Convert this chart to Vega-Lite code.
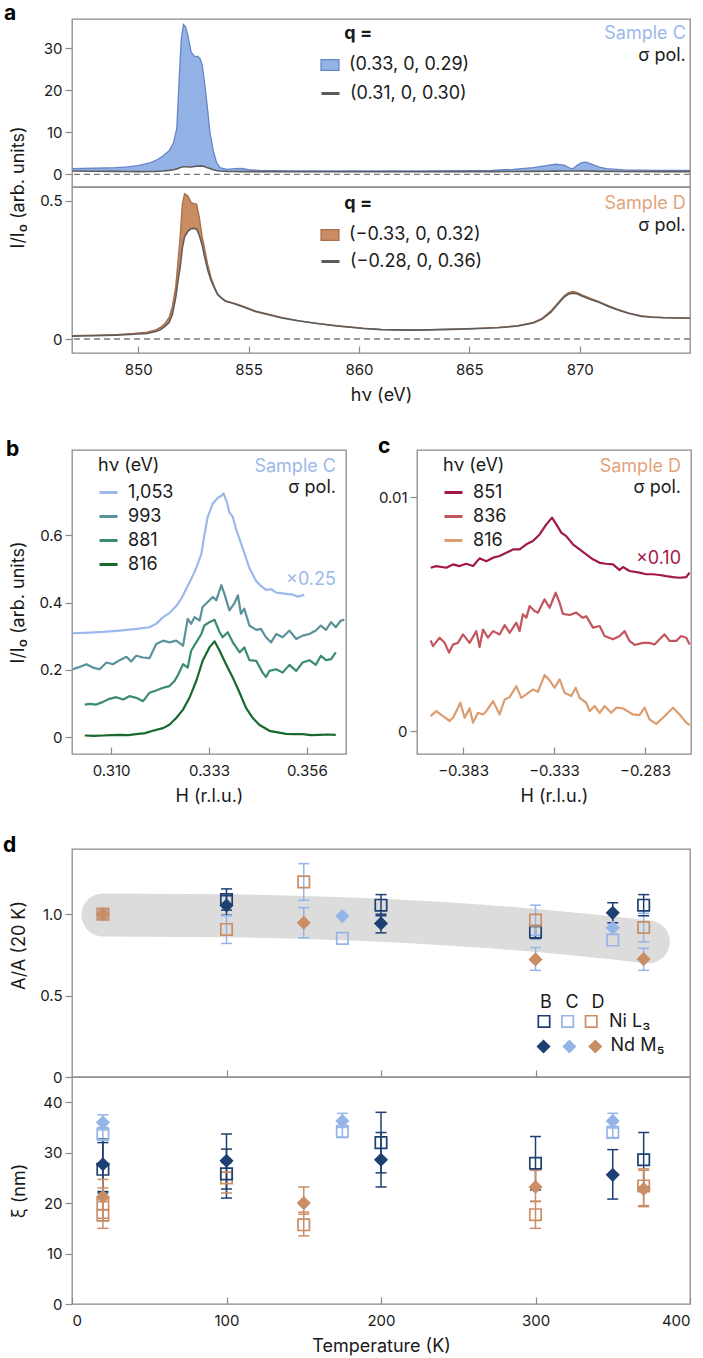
{
"$schema": "https://vega.github.io/schema/vega-lite/v6.json",
"background": "white",
"padding": {"left": 2, "top": 2, "right": 0, "bottom": 0},
"config": {
 "font": "Inter",
 "view": {"stroke": "#8c8c8c", "strokeWidth": 1.3},
 "axis": {"domain": false, "grid": false, "tickColor": "#8c8c8c", "tickWidth": 1.2, "labelFont": "Inter", "labelFontSize": 15, "labelColor": "#1a1a1a", "titleFont": "Inter", "titleFontSize": 18, "titleFontWeight": "normal", "titleColor": "#1a1a1a"},
 "axisX": {"tickSize": -7, "labelPadding": 16, "titlePadding": 9},
 "axisY": {"tickSize": 7, "labelPadding": 3, "minExtent": 40, "maxExtent": 40, "titlePadding": 5},
 "legend": {"labelFont": "Inter", "labelFontSize": 18, "labelColor": "#1a1a1a", "titleFont": "Inter", "titleFontSize": 18, "titleFontWeight": "normal", "titleColor": "#1a1a1a", "padding": 0},
 "title": {"font": "Inter", "fontSize": 21, "fontWeight": "bold", "color": "#000000", "anchor": "start", "frame": "group", "offset": 0, "baseline": "alphabetic"},
 "text": {"font": "Inter", "fontSize": 18, "color": "#1a1a1a"}
},
"datasets": {
 "aC": [
  {"eV":847.0,"sig":1.35,"bg":0.80},{"eV":848.0,"sig":1.45,"bg":0.75},{"eV":849.0,"sig":1.6,"bg":0.70},{"eV":849.5,"sig":1.8,"bg":0.68},{"eV":850.0,"sig":2.1,"bg":0.66},{"eV":850.5,"sig":2.7,"bg":0.68},{"eV":850.8,"sig":3.3,"bg":0.72},{"eV":851.1,"sig":4.3,"bg":0.80},{"eV":851.4,"sig":5.6,"bg":0.95},{"eV":851.6,"sig":7.5,"bg":1.1},{"eV":851.75,"sig":11,"bg":1.3},{"eV":851.85,"sig":22,"bg":1.5},{"eV":851.95,"sig":32,"bg":1.7},{"eV":852.05,"sig":35.6,"bg":1.8},{"eV":852.15,"sig":35,"bg":1.8},{"eV":852.25,"sig":33,"bg":1.75},{"eV":852.4,"sig":29,"bg":1.75},{"eV":852.55,"sig":28,"bg":1.85},{"eV":852.7,"sig":28,"bg":1.95},{"eV":852.8,"sig":27.5,"bg":2.0},{"eV":852.9,"sig":26,"bg":1.95},{"eV":853.0,"sig":22,"bg":1.85},{"eV":853.1,"sig":17.5,"bg":1.65},{"eV":853.25,"sig":10,"bg":1.4},{"eV":853.4,"sig":5.6,"bg":1.1},{"eV":853.55,"sig":2.8,"bg":0.9},{"eV":853.7,"sig":1.6,"bg":0.8},{"eV":854.0,"sig":1.2,"bg":0.7},{"eV":854.4,"sig":1.35,"bg":0.68},{"eV":854.7,"sig":1.4,"bg":0.66},{"eV":855.0,"sig":1.1,"bg":0.65},{"eV":855.5,"sig":0.95,"bg":0.64},{"eV":857,"sig":0.85,"bg":0.63},{"eV":860,"sig":0.8,"bg":0.62},{"eV":863,"sig":0.82,"bg":0.63},{"eV":866,"sig":0.95,"bg":0.65},{"eV":867,"sig":1.2,"bg":0.68},{"eV":867.9,"sig":1.6,"bg":0.72},{"eV":868.5,"sig":2.1,"bg":0.75},{"eV":868.9,"sig":2.4,"bg":0.78},{"eV":869.3,"sig":2.2,"bg":0.8},{"eV":869.55,"sig":1.5,"bg":0.8},{"eV":869.7,"sig":1.35,"bg":0.8},{"eV":869.9,"sig":2.2,"bg":0.8},{"eV":870.1,"sig":2.8,"bg":0.82},{"eV":870.3,"sig":2.9,"bg":0.8},{"eV":870.6,"sig":2.3,"bg":0.76},{"eV":870.9,"sig":1.7,"bg":0.72},{"eV":871.2,"sig":1.35,"bg":0.7},{"eV":872.0,"sig":1.05,"bg":0.67},{"eV":873.5,"sig":0.95,"bg":0.66},{"eV":875.0,"sig":0.95,"bg":0.65}
 ],
 "aD": [
  {"eV":847.0,"sig":0.012,"bg":0.010},{"eV":848.0,"sig":0.014,"bg":0.012},{"eV":849.0,"sig":0.016,"bg":0.014},{"eV":849.8,"sig":0.020,"bg":0.017},{"eV":850.4,"sig":0.025,"bg":0.020},{"eV":850.8,"sig":0.033,"bg":0.027},{"eV":851.0,"sig":0.042,"bg":0.033},{"eV":851.2,"sig":0.055,"bg":0.045},{"eV":851.4,"sig":0.078,"bg":0.06},{"eV":851.55,"sig":0.12,"bg":0.09},{"eV":851.7,"sig":0.19,"bg":0.15},{"eV":851.8,"sig":0.28,"bg":0.21},{"eV":851.9,"sig":0.37,"bg":0.26},{"eV":852.0,"sig":0.49,"bg":0.33},{"eV":852.1,"sig":0.527,"bg":0.37},{"eV":852.25,"sig":0.518,"bg":0.39},{"eV":852.4,"sig":0.494,"bg":0.40},{"eV":852.55,"sig":0.49,"bg":0.40},{"eV":852.65,"sig":0.488,"bg":0.398},{"eV":852.77,"sig":0.44,"bg":0.375},{"eV":852.9,"sig":0.37,"bg":0.34},{"eV":853.0,"sig":0.331,"bg":0.30},{"eV":853.15,"sig":0.27,"bg":0.25},{"eV":853.3,"sig":0.223,"bg":0.212},{"eV":853.45,"sig":0.19,"bg":0.185},{"eV":853.6,"sig":0.163,"bg":0.16},{"eV":853.8,"sig":0.148,"bg":0.146},{"eV":853.95,"sig":0.139,"bg":0.137},{"eV":854.2,"sig":0.133,"bg":0.131},{"eV":854.45,"sig":0.127,"bg":0.125},{"eV":854.8,"sig":0.117,"bg":0.115},{"eV":855.3,"sig":0.102,"bg":0.100},{"eV":856.0,"sig":0.088,"bg":0.086},{"eV":856.5,"sig":0.078,"bg":0.076},{"eV":857.3,"sig":0.066,"bg":0.065},{"eV":858.1,"sig":0.057,"bg":0.056},{"eV":859.0,"sig":0.048,"bg":0.047},{"eV":860.2,"sig":0.039,"bg":0.038},{"eV":861.0,"sig":0.035,"bg":0.034},{"eV":862.2,"sig":0.033,"bg":0.032},{"eV":863.2,"sig":0.034,"bg":0.033},{"eV":864.2,"sig":0.036,"bg":0.035},{"eV":865.2,"sig":0.038,"bg":0.037},{"eV":866.3,"sig":0.042,"bg":0.041},{"eV":867.2,"sig":0.048,"bg":0.047},{"eV":867.9,"sig":0.060,"bg":0.058},{"eV":868.3,"sig":0.075,"bg":0.072},{"eV":868.7,"sig":0.102,"bg":0.097},{"eV":869.0,"sig":0.13,"bg":0.125},{"eV":869.3,"sig":0.157,"bg":0.152},{"eV":869.5,"sig":0.168,"bg":0.163},{"eV":869.7,"sig":0.172,"bg":0.166},{"eV":869.9,"sig":0.168,"bg":0.163},{"eV":870.1,"sig":0.16,"bg":0.156},{"eV":870.5,"sig":0.147,"bg":0.143},{"eV":870.9,"sig":0.135,"bg":0.132},{"eV":871.3,"sig":0.121,"bg":0.118},{"eV":871.7,"sig":0.108,"bg":0.106},{"eV":872.2,"sig":0.095,"bg":0.093},{"eV":872.8,"sig":0.084,"bg":0.082},{"eV":873.3,"sig":0.080,"bg":0.079},{"eV":873.8,"sig":0.078,"bg":0.077},{"eV":874.4,"sig":0.077,"bg":0.076},{"eV":875.0,"sig":0.076,"bg":0.075}
 ],
 "bL": [
  {"hv":"816","H":0.3038,"v":0.005},{"hv":"816","H":0.3060,"v":0.004},{"hv":"816","H":0.3081,"v":0.005},{"hv":"816","H":0.3100,"v":0.006},{"hv":"816","H":0.3120,"v":0.007},{"hv":"816","H":0.3140,"v":0.006},{"hv":"816","H":0.3159,"v":0.009},{"hv":"816","H":0.3180,"v":0.012},{"hv":"816","H":0.3198,"v":0.019},{"hv":"816","H":0.3222,"v":0.027},{"hv":"816","H":0.3237,"v":0.037},{"hv":"816","H":0.3253,"v":0.057},{"hv":"816","H":0.3269,"v":0.082},{"hv":"816","H":0.3284,"v":0.117},{"hv":"816","H":0.3300,"v":0.167},{"hv":"816","H":0.3315,"v":0.227},{"hv":"816","H":0.3331,"v":0.267},{"hv":"816","H":0.3343,"v":0.285},{"hv":"816","H":0.3355,"v":0.257},{"hv":"816","H":0.3370,"v":0.217},{"hv":"816","H":0.3386,"v":0.177},{"hv":"816","H":0.3402,"v":0.132},{"hv":"816","H":0.3417,"v":0.087},{"hv":"816","H":0.3433,"v":0.057},{"hv":"816","H":0.3448,"v":0.037},{"hv":"816","H":0.3472,"v":0.019},{"hv":"816","H":0.3511,"v":0.010},{"hv":"816","H":0.3530,"v":0.009},{"hv":"816","H":0.3550,"v":0.009},{"hv":"816","H":0.3570,"v":0.006},{"hv":"816","H":0.3589,"v":0.007},{"hv":"816","H":0.3610,"v":0.008},{"hv":"816","H":0.3628,"v":0.007},
  {"hv":"881","H":0.3038,"v":0.097},{"hv":"881","H":0.3050,"v":0.099},{"hv":"881","H":0.3065,"v":0.097},{"hv":"881","H":0.3081,"v":0.105},{"hv":"881","H":0.3096,"v":0.114},{"hv":"881","H":0.3112,"v":0.119},{"hv":"881","H":0.3128,"v":0.112},{"hv":"881","H":0.3143,"v":0.122},{"hv":"881","H":0.3159,"v":0.117},{"hv":"881","H":0.3175,"v":0.107},{"hv":"881","H":0.3190,"v":0.132},{"hv":"881","H":0.3206,"v":0.139},{"hv":"881","H":0.3222,"v":0.147},{"hv":"881","H":0.3237,"v":0.152},{"hv":"881","H":0.3249,"v":0.167},{"hv":"881","H":0.3257,"v":0.185},{"hv":"881","H":0.3269,"v":0.217},{"hv":"881","H":0.3280,"v":0.207},{"hv":"881","H":0.3288,"v":0.257},{"hv":"881","H":0.3300,"v":0.282},{"hv":"881","H":0.3312,"v":0.307},{"hv":"881","H":0.3319,"v":0.332},{"hv":"881","H":0.3331,"v":0.342},{"hv":"881","H":0.3343,"v":0.349},{"hv":"881","H":0.3355,"v":0.312},{"hv":"881","H":0.3362,"v":0.297},{"hv":"881","H":0.3374,"v":0.312},{"hv":"881","H":0.3386,"v":0.282},{"hv":"881","H":0.3402,"v":0.252},{"hv":"881","H":0.3413,"v":0.267},{"hv":"881","H":0.3425,"v":0.229},{"hv":"881","H":0.3441,"v":0.227},{"hv":"881","H":0.3456,"v":0.192},{"hv":"881","H":0.3464,"v":0.179},{"hv":"881","H":0.3472,"v":0.197},{"hv":"881","H":0.3488,"v":0.202},{"hv":"881","H":0.3503,"v":0.192},{"hv":"881","H":0.3519,"v":0.215},{"hv":"881","H":0.3535,"v":0.197},{"hv":"881","H":0.3550,"v":0.222},{"hv":"881","H":0.3566,"v":0.229},{"hv":"881","H":0.3581,"v":0.215},{"hv":"881","H":0.3593,"v":0.242},{"hv":"881","H":0.3605,"v":0.229},{"hv":"881","H":0.3617,"v":0.232},{"hv":"881","H":0.3628,"v":0.252},
  {"hv":"993","H":0.3010,"v":0.202},{"hv":"993","H":0.3026,"v":0.209},{"hv":"993","H":0.3042,"v":0.217},{"hv":"993","H":0.3057,"v":0.207},{"hv":"993","H":0.3073,"v":0.202},{"hv":"993","H":0.3089,"v":0.222},{"hv":"993","H":0.3104,"v":0.217},{"hv":"993","H":0.3120,"v":0.229},{"hv":"993","H":0.3136,"v":0.239},{"hv":"993","H":0.3147,"v":0.225},{"hv":"993","H":0.3159,"v":0.242},{"hv":"993","H":0.3175,"v":0.237},{"hv":"993","H":0.3190,"v":0.235},{"hv":"993","H":0.3206,"v":0.277},{"hv":"993","H":0.3222,"v":0.287},{"hv":"993","H":0.3237,"v":0.282},{"hv":"993","H":0.3253,"v":0.287},{"hv":"993","H":0.3269,"v":0.272},{"hv":"993","H":0.3280,"v":0.352},{"hv":"993","H":0.3288,"v":0.337},{"hv":"993","H":0.3296,"v":0.357},{"hv":"993","H":0.3308,"v":0.347},{"hv":"993","H":0.3315,"v":0.387},{"hv":"993","H":0.3327,"v":0.402},{"hv":"993","H":0.3339,"v":0.417},{"hv":"993","H":0.3347,"v":0.407},{"hv":"993","H":0.3359,"v":0.452},{"hv":"993","H":0.3366,"v":0.427},{"hv":"993","H":0.3378,"v":0.377},{"hv":"993","H":0.3390,"v":0.399},{"hv":"993","H":0.3398,"v":0.422},{"hv":"993","H":0.3405,"v":0.367},{"hv":"993","H":0.3413,"v":0.382},{"hv":"993","H":0.3425,"v":0.332},{"hv":"993","H":0.3441,"v":0.319},{"hv":"993","H":0.3452,"v":0.322},{"hv":"993","H":0.3464,"v":0.297},{"hv":"993","H":0.3476,"v":0.282},{"hv":"993","H":0.3488,"v":0.307},{"hv":"993","H":0.3503,"v":0.297},{"hv":"993","H":0.3519,"v":0.317},{"hv":"993","H":0.3535,"v":0.292},{"hv":"993","H":0.3550,"v":0.302},{"hv":"993","H":0.3566,"v":0.307},{"hv":"993","H":0.3581,"v":0.317},{"hv":"993","H":0.3593,"v":0.332},{"hv":"993","H":0.3605,"v":0.319},{"hv":"993","H":0.3617,"v":0.342},{"hv":"993","H":0.3628,"v":0.327},{"hv":"993","H":0.3640,"v":0.347},{"hv":"993","H":0.3648,"v":0.349},
  {"hv":"1,053","H":0.3010,"v":0.309},{"hv":"1,053","H":0.3050,"v":0.311},{"hv":"1,053","H":0.3081,"v":0.313},{"hv":"1,053","H":0.3120,"v":0.317},{"hv":"1,053","H":0.3159,"v":0.322},{"hv":"1,053","H":0.3190,"v":0.327},{"hv":"1,053","H":0.3206,"v":0.337},{"hv":"1,053","H":0.3222,"v":0.357},{"hv":"1,053","H":0.3237,"v":0.369},{"hv":"1,053","H":0.3253,"v":0.390},{"hv":"1,053","H":0.3265,"v":0.412},{"hv":"1,053","H":0.3276,"v":0.440},{"hv":"1,053","H":0.3288,"v":0.470},{"hv":"1,053","H":0.3300,"v":0.503},{"hv":"1,053","H":0.3312,"v":0.545},{"hv":"1,053","H":0.3319,"v":0.600},{"hv":"1,053","H":0.3327,"v":0.655},{"hv":"1,053","H":0.3339,"v":0.695},{"hv":"1,053","H":0.3351,"v":0.712},{"hv":"1,053","H":0.3359,"v":0.718},{"hv":"1,053","H":0.3364,"v":0.725},{"hv":"1,053","H":0.3372,"v":0.700},{"hv":"1,053","H":0.3378,"v":0.668},{"hv":"1,053","H":0.3386,"v":0.655},{"hv":"1,053","H":0.3394,"v":0.617},{"hv":"1,053","H":0.3409,"v":0.563},{"hv":"1,053","H":0.3425,"v":0.503},{"hv":"1,053","H":0.3441,"v":0.464},{"hv":"1,053","H":0.3452,"v":0.450},{"hv":"1,053","H":0.3464,"v":0.438},{"hv":"1,053","H":0.3476,"v":0.440},{"hv":"1,053","H":0.3488,"v":0.430},{"hv":"1,053","H":0.3507,"v":0.427},{"hv":"1,053","H":0.3527,"v":0.424},{"hv":"1,053","H":0.3538,"v":0.418},{"hv":"1,053","H":0.3554,"v":0.423}
 ],
 "cL": [
  {"hv":"816","H":-0.4008,"v":0.00064},{"hv":"816","H":-0.3977,"v":0.00085},{"hv":"816","H":-0.3940,"v":0.00064},{"hv":"816","H":-0.3904,"v":0.00043},{"hv":"816","H":-0.3885,"v":0.00057},{"hv":"816","H":-0.3867,"v":0.00085},{"hv":"816","H":-0.3845,"v":0.00121},{"hv":"816","H":-0.3821,"v":0.00057},{"hv":"816","H":-0.3794,"v":0.00097},{"hv":"816","H":-0.3775,"v":0.00036},{"hv":"816","H":-0.3748,"v":0.00078},{"hv":"816","H":-0.3720,"v":0.00071},{"hv":"816","H":-0.3702,"v":0.00085},{"hv":"816","H":-0.3665,"v":0.00128},{"hv":"816","H":-0.3629,"v":0.00071},{"hv":"816","H":-0.3601,"v":0.00135},{"hv":"816","H":-0.3574,"v":0.00145},{"hv":"816","H":-0.3537,"v":0.00192},{"hv":"816","H":-0.3510,"v":0.00142},{"hv":"816","H":-0.3482,"v":0.00157},{"hv":"816","H":-0.3446,"v":0.00178},{"hv":"816","H":-0.3418,"v":0.00168},{"hv":"816","H":-0.3382,"v":0.00239},{"hv":"816","H":-0.3354,"v":0.00217},{"hv":"816","H":-0.3327,"v":0.00185},{"hv":"816","H":-0.3299,"v":0.00221},{"hv":"816","H":-0.3272,"v":0.00164},{"hv":"816","H":-0.3235,"v":0.00150},{"hv":"816","H":-0.3211,"v":0.00185},{"hv":"816","H":-0.3189,"v":0.00142},{"hv":"816","H":-0.3153,"v":0.00121},{"hv":"816","H":-0.3134,"v":0.00085},{"hv":"816","H":-0.3107,"v":0.00107},{"hv":"816","H":-0.3079,"v":0.00078},{"hv":"816","H":-0.3052,"v":0.00107},{"hv":"816","H":-0.3015,"v":0.00078},{"hv":"816","H":-0.2988,"v":0.00100},{"hv":"816","H":-0.2951,"v":0.00097},{"hv":"816","H":-0.2896,"v":0.00071},{"hv":"816","H":-0.2860,"v":0.00068},{"hv":"816","H":-0.2832,"v":0.00100},{"hv":"816","H":-0.2805,"v":0.00050},{"hv":"816","H":-0.2768,"v":0.00031},{"hv":"816","H":-0.2731,"v":0.00057},{"hv":"816","H":-0.2676,"v":0.00100},{"hv":"816","H":-0.2640,"v":0.00071},{"hv":"816","H":-0.2603,"v":0.00036},{"hv":"816","H":-0.2585,"v":0.00026},
  {"hv":"836","H":-0.4008,"v":0.00387},{"hv":"836","H":-0.3995,"v":0.00363},{"hv":"836","H":-0.3959,"v":0.00399},{"hv":"836","H":-0.3931,"v":0.00377},{"hv":"836","H":-0.3907,"v":0.00335},{"hv":"836","H":-0.3885,"v":0.00370},{"hv":"836","H":-0.3858,"v":0.00377},{"hv":"836","H":-0.3830,"v":0.00413},{"hv":"836","H":-0.3794,"v":0.00377},{"hv":"836","H":-0.3757,"v":0.00427},{"hv":"836","H":-0.3739,"v":0.00359},{"hv":"836","H":-0.3720,"v":0.00434},{"hv":"836","H":-0.3693,"v":0.00399},{"hv":"836","H":-0.3665,"v":0.00427},{"hv":"836","H":-0.3629,"v":0.00413},{"hv":"836","H":-0.3601,"v":0.00453},{"hv":"836","H":-0.3574,"v":0.00420},{"hv":"836","H":-0.3537,"v":0.00463},{"hv":"836","H":-0.3519,"v":0.00427},{"hv":"836","H":-0.3501,"v":0.00499},{"hv":"836","H":-0.3482,"v":0.00484},{"hv":"836","H":-0.3464,"v":0.00534},{"hv":"836","H":-0.3437,"v":0.00513},{"hv":"836","H":-0.3418,"v":0.00506},{"hv":"836","H":-0.3382,"v":0.00563},{"hv":"836","H":-0.3354,"v":0.00527},{"hv":"836","H":-0.3321,"v":0.00591},{"hv":"836","H":-0.3299,"v":0.00548},{"hv":"836","H":-0.3281,"v":0.00501},{"hv":"836","H":-0.3244,"v":0.00496},{"hv":"836","H":-0.3208,"v":0.00506},{"hv":"836","H":-0.3171,"v":0.00484},{"hv":"836","H":-0.3153,"v":0.00491},{"hv":"836","H":-0.3116,"v":0.00442},{"hv":"836","H":-0.3079,"v":0.00449},{"hv":"836","H":-0.3052,"v":0.00406},{"hv":"836","H":-0.3006,"v":0.00392},{"hv":"836","H":-0.2969,"v":0.00406},{"hv":"836","H":-0.2942,"v":0.00427},{"hv":"836","H":-0.2915,"v":0.00385},{"hv":"836","H":-0.2887,"v":0.00368},{"hv":"836","H":-0.2841,"v":0.00377},{"hv":"836","H":-0.2805,"v":0.00377},{"hv":"836","H":-0.2777,"v":0.00370},{"hv":"836","H":-0.2750,"v":0.00392},{"hv":"836","H":-0.2722,"v":0.00413},{"hv":"836","H":-0.2695,"v":0.00385},{"hv":"836","H":-0.2658,"v":0.00385},{"hv":"836","H":-0.2631,"v":0.00406},{"hv":"836","H":-0.2603,"v":0.00399},{"hv":"836","H":-0.2585,"v":0.00370},
  {"hv":"851","H":-0.4008,"v":0.00698},{"hv":"851","H":-0.3977,"v":0.00705},{"hv":"851","H":-0.3922,"v":0.00698},{"hv":"851","H":-0.3885,"v":0.00712},{"hv":"851","H":-0.3849,"v":0.00705},{"hv":"851","H":-0.3812,"v":0.00715},{"hv":"851","H":-0.3775,"v":0.00705},{"hv":"851","H":-0.3739,"v":0.00738},{"hv":"851","H":-0.3702,"v":0.00726},{"hv":"851","H":-0.3665,"v":0.00741},{"hv":"851","H":-0.3629,"v":0.00748},{"hv":"851","H":-0.3592,"v":0.00762},{"hv":"851","H":-0.3555,"v":0.00776},{"hv":"851","H":-0.3519,"v":0.00776},{"hv":"851","H":-0.3482,"v":0.00798},{"hv":"851","H":-0.3446,"v":0.00812},{"hv":"851","H":-0.3409,"v":0.00840},{"hv":"851","H":-0.3372,"v":0.00883},{"hv":"851","H":-0.3341,"v":0.00912},{"hv":"851","H":-0.3317,"v":0.00883},{"hv":"851","H":-0.3290,"v":0.00848},{"hv":"851","H":-0.3263,"v":0.00833},{"hv":"851","H":-0.3226,"v":0.00798},{"hv":"851","H":-0.3189,"v":0.00776},{"hv":"851","H":-0.3153,"v":0.00755},{"hv":"851","H":-0.3116,"v":0.00734},{"hv":"851","H":-0.3079,"v":0.00719},{"hv":"851","H":-0.3043,"v":0.00715},{"hv":"851","H":-0.3006,"v":0.00712},{"hv":"851","H":-0.2969,"v":0.00688},{"hv":"851","H":-0.2951,"v":0.00701},{"hv":"851","H":-0.2915,"v":0.00684},{"hv":"851","H":-0.2860,"v":0.00677},{"hv":"851","H":-0.2823,"v":0.00670},{"hv":"851","H":-0.2786,"v":0.00670},{"hv":"851","H":-0.2750,"v":0.00667},{"hv":"851","H":-0.2713,"v":0.00662},{"hv":"851","H":-0.2676,"v":0.00658},{"hv":"851","H":-0.2640,"v":0.00655},{"hv":"851","H":-0.2603,"v":0.00658},{"hv":"851","H":-0.2585,"v":0.00677}
 ],
 "band": [{"T":20,"A":0.995},{"T":100,"A":0.99},{"T":200,"A":0.962},{"T":300,"A":0.9},{"T":373,"A":0.83}],
 "dA": [
  {"T":20,"val":1.0,"lo":0.975,"hi":1.025,"sample":"D","edge":"Ni"},
  {"T":20,"val":1.0,"lo":0.975,"hi":1.025,"sample":"D","edge":"Nd"},
  {"T":100,"val":1.09,"lo":1.025,"hi":1.155,"sample":"B","edge":"Ni"},
  {"T":100,"val":1.053,"lo":0.993,"hi":1.113,"sample":"B","edge":"Nd"},
  {"T":100,"val":0.906,"lo":0.82,"hi":0.99,"sample":"D","edge":"Ni"},
  {"T":150,"val":1.198,"lo":1.085,"hi":1.31,"sample":"D","edge":"Ni"},
  {"T":150,"val":0.947,"lo":0.855,"hi":1.04,"sample":"D","edge":"Nd"},
  {"T":175,"val":0.851,"lo":0.851,"hi":0.851,"sample":"C","edge":"Ni"},
  {"T":175,"val":0.988,"lo":0.988,"hi":0.988,"sample":"C","edge":"Nd"},
  {"T":200,"val":1.055,"lo":0.99,"hi":1.12,"sample":"B","edge":"Ni"},
  {"T":200,"val":0.943,"lo":0.885,"hi":1.0,"sample":"B","edge":"Nd"},
  {"T":300,"val":0.89,"lo":0.85,"hi":0.93,"sample":"B","edge":"Ni"},
  {"T":300,"val":0.963,"lo":0.87,"hi":1.055,"sample":"D","edge":"Ni"},
  {"T":300,"val":0.722,"lo":0.655,"hi":0.795,"sample":"D","edge":"Nd"},
  {"T":350,"val":1.008,"lo":0.947,"hi":1.07,"sample":"B","edge":"Nd"},
  {"T":350,"val":0.916,"lo":0.916,"hi":0.916,"sample":"C","edge":"Nd"},
  {"T":350,"val":0.841,"lo":0.841,"hi":0.841,"sample":"C","edge":"Ni"},
  {"T":370,"val":1.055,"lo":0.99,"hi":1.12,"sample":"B","edge":"Ni"},
  {"T":370,"val":0.918,"lo":0.83,"hi":1.005,"sample":"D","edge":"Ni"},
  {"T":370,"val":0.724,"lo":0.655,"hi":0.79,"sample":"D","edge":"Nd"}
 ],
 "dX": [
  {"T":20,"val":36.0,"lo":34.5,"hi":37.5,"sample":"C","edge":"Nd"},
  {"T":20,"val":33.7,"lo":32.5,"hi":35.0,"sample":"C","edge":"Ni"},
  {"T":20,"val":27.7,"lo":22.3,"hi":32.7,"sample":"B","edge":"Nd"},
  {"T":20,"val":26.7,"lo":22.0,"hi":32.0,"sample":"B","edge":"Ni"},
  {"T":20,"val":21.2,"lo":17.0,"hi":24.7,"sample":"D","edge":"Nd"},
  {"T":20,"val":19.8,"lo":16.5,"hi":23.0,"sample":"D","edge":"Ni"},
  {"T":20,"val":17.6,"lo":15.0,"hi":20.3,"sample":"D","edge":"Ni"},
  {"T":100,"val":25.0,"lo":22.0,"hi":28.0,"sample":"D","edge":"Ni"},
  {"T":100,"val":25.8,"lo":21.0,"hi":30.7,"sample":"B","edge":"Ni"},
  {"T":100,"val":28.4,"lo":22.8,"hi":33.7,"sample":"B","edge":"Nd"},
  {"T":150,"val":20.0,"lo":17.8,"hi":23.2,"sample":"D","edge":"Nd"},
  {"T":150,"val":15.7,"lo":13.5,"hi":18.2,"sample":"D","edge":"Ni"},
  {"T":175,"val":36.3,"lo":35.0,"hi":37.8,"sample":"C","edge":"Nd"},
  {"T":175,"val":34.2,"lo":33.0,"hi":35.4,"sample":"C","edge":"Ni"},
  {"T":200,"val":32.0,"lo":26.0,"hi":38.0,"sample":"B","edge":"Ni"},
  {"T":200,"val":28.6,"lo":23.2,"hi":34.0,"sample":"B","edge":"Nd"},
  {"T":300,"val":27.9,"lo":22.6,"hi":33.2,"sample":"B","edge":"Ni"},
  {"T":300,"val":23.2,"lo":20.4,"hi":26.5,"sample":"D","edge":"Nd"},
  {"T":300,"val":17.7,"lo":15.0,"hi":20.3,"sample":"D","edge":"Ni"},
  {"T":350,"val":36.3,"lo":34.9,"hi":37.8,"sample":"C","edge":"Nd"},
  {"T":350,"val":34.0,"lo":33.0,"hi":35.2,"sample":"C","edge":"Ni"},
  {"T":350,"val":25.6,"lo":20.8,"hi":30.6,"sample":"B","edge":"Nd"},
  {"T":370,"val":28.6,"lo":23.2,"hi":34.0,"sample":"B","edge":"Ni"},
  {"T":370,"val":23.4,"lo":19.5,"hi":26.8,"sample":"D","edge":"Ni"},
  {"T":370,"val":22.8,"lo":19.3,"hi":26.5,"sample":"D","edge":"Nd"}
 ]
},
"resolve": {"scale": {"x": "independent", "y": "independent", "color": "independent", "fill": "independent", "stroke": "independent"}, "axis": {"x": "independent", "y": "independent"}, "legend": {"color": "independent", "fill": "independent", "stroke": "independent"}},
"spacing": 22,
"vconcat": [
 {
  "spacing": 30,
  "resolve": {"scale": {"x": "independent", "y": "independent", "color": "independent", "fill": "independent", "stroke": "independent"}, "axis": {"x": "independent", "y": "independent"}, "legend": {"color": "independent", "fill": "independent", "stroke": "independent"}},
  "vconcat": [
   {
    "spacing": 0,
    "bounds": "flush",
    "resolve": {"scale": {"x": "independent", "y": "independent", "color": "independent", "fill": "independent", "stroke": "independent"}, "axis": {"x": "independent", "y": "independent"}, "legend": {"color": "independent", "fill": "independent", "stroke": "independent"}},
    "vconcat": [
     {
      "width": 618, "height": 168,
      "title": {"text": "a", "dx": -68, "dy": 9},
      "layer": [
       {"data": {"name": "aC"}, "mark": {"type": "area"},
        "encoding": {
         "x": {"field": "eV", "type": "quantitative", "scale": {"domain": [847, 875], "nice": false, "zero": false}, "axis": null},
         "y": {"field": "sig", "type": "quantitative", "scale": {"domain": [-3, 36.9], "nice": false, "zero": false}, "axis": {"values": [0, 10, 20, 30], "format": "~r", "title": "I/I₀ (arb. units)", "titleY": 168, "titleAlign": "center"}},
         "y2": {"field": "bg"},
         "fill": {"datum": "(0.33, 0, 0.29)", "type": "nominal", "scale": {"range": ["#93b3e6"]}, "legend": {"orient": "none", "legendX": 248, "legendY": 36, "title": null, "symbolType": "M-1,-0.6H1V0.6H-1Z", "symbolSize": 324, "symbolStrokeColor": "#6685c6", "symbolStrokeWidth": 1.2, "labelOffset": 9}}
        }},
       {"data": {"name": "aC"}, "mark": {"type": "line", "color": "#6685c6", "strokeWidth": 1.3},
        "encoding": {"x": {"field": "eV", "type": "quantitative", "axis": null}, "y": {"field": "sig", "type": "quantitative"}}},
       {"data": {"name": "aC"}, "mark": {"type": "line", "strokeWidth": 1.6},
        "encoding": {"x": {"field": "eV", "type": "quantitative", "axis": null}, "y": {"field": "bg", "type": "quantitative"},
         "stroke": {"datum": "(0.31, 0, 0.30)", "type": "nominal", "scale": {"range": ["#5c5c5c"]}, "legend": {"orient": "none", "legendX": 248, "legendY": 64, "title": null, "symbolType": "stroke", "symbolSize": 324, "symbolStrokeWidth": 3, "labelOffset": 9}}}},
       {"data": {"values": [{}]}, "mark": {"type": "rule", "strokeDash": [6, 4], "color": "#7a7a7a", "strokeWidth": 1.4}, "encoding": {"y": {"datum": 0, "type": "quantitative"}}},
       {"data": {"values": [{}]}, "mark": {"type": "text", "text": "q =", "align": "left", "baseline": "middle", "fontWeight": "bold"}, "encoding": {"x": {"datum": 859.34, "type": "quantitative", "axis": null}, "y": {"datum": 33.34, "type": "quantitative"}}},
       {"data": {"values": [{}]}, "mark": {"type": "text", "text": "Sample C", "align": "right", "baseline": "middle", "color": "#9db9ea"}, "encoding": {"x": {"datum": 874.81, "type": "quantitative", "axis": null}, "y": {"datum": 33.34, "type": "quantitative"}}},
       {"data": {"values": [{}]}, "mark": {"type": "text", "text": "σ pol.", "align": "right", "baseline": "middle"}, "encoding": {"x": {"datum": 874.81, "type": "quantitative", "axis": null}, "y": {"datum": 28.1, "type": "quantitative"}}}
      ]
     },
     {
      "width": 618, "height": 166,
      "layer": [
       {"data": {"name": "aD"}, "mark": {"type": "area"},
        "encoding": {
         "x": {"field": "eV", "type": "quantitative", "scale": {"domain": [847, 875], "nice": false, "zero": false}, "axis": {"values": [850, 855, 860, 865, 870], "title": "hν (eV)"}},
         "y": {"field": "sig", "type": "quantitative", "scale": {"domain": [-0.0507, 0.5507], "nice": false, "zero": false}, "axis": {"values": [0, 0.5], "format": "~r", "title": null}},
         "y2": {"field": "bg"},
         "fill": {"datum": "(−0.33, 0, 0.32)", "type": "nominal", "scale": {"range": ["#c98c63"]}, "legend": {"orient": "none", "legendX": 248, "legendY": 38, "title": null, "symbolType": "M-1,-0.6H1V0.6H-1Z", "symbolSize": 324, "symbolStrokeColor": "#a96f48", "symbolStrokeWidth": 1.2, "labelOffset": 9}}
        }},
       {"data": {"name": "aD"}, "mark": {"type": "line", "color": "#a96f48", "strokeWidth": 1.3},
        "encoding": {"x": {"field": "eV", "type": "quantitative"}, "y": {"field": "sig", "type": "quantitative"}}},
       {"data": {"name": "aD"}, "mark": {"type": "line", "strokeWidth": 1.6},
        "encoding": {"x": {"field": "eV", "type": "quantitative"}, "y": {"field": "bg", "type": "quantitative"},
         "stroke": {"datum": "(−0.28, 0, 0.36)", "type": "nominal", "scale": {"range": ["#5c5c5c"]}, "legend": {"orient": "none", "legendX": 248, "legendY": 64, "title": null, "symbolType": "stroke", "symbolSize": 324, "symbolStrokeWidth": 3, "labelOffset": 9}}}},
       {"data": {"values": [{}]}, "mark": {"type": "rule", "strokeDash": [6, 4], "color": "#7a7a7a", "strokeWidth": 1.4}, "encoding": {"y": {"datum": 0, "type": "quantitative"}}},
       {"data": {"values": [{}]}, "mark": {"type": "text", "text": "q =", "align": "left", "baseline": "middle", "fontWeight": "bold"}, "encoding": {"x": {"datum": 859.34, "type": "quantitative"}, "y": {"datum": 0.4891, "type": "quantitative"}}},
       {"data": {"values": [{}]}, "mark": {"type": "text", "text": "Sample D", "align": "right", "baseline": "middle", "color": "#e2a47c"}, "encoding": {"x": {"datum": 874.81, "type": "quantitative"}, "y": {"datum": 0.4891, "type": "quantitative"}}},
       {"data": {"values": [{}]}, "mark": {"type": "text", "text": "σ pol.", "align": "right", "baseline": "middle"}, "encoding": {"x": {"datum": 874.81, "type": "quantitative"}, "y": {"datum": 0.4094, "type": "quantitative"}}}
      ]
     }
    ]
   },
   {
    "spacing": 71,
    "bounds": "flush",
    "resolve": {"scale": {"x": "independent", "y": "independent", "color": "independent", "fill": "independent", "stroke": "independent"}, "axis": {"x": "independent", "y": "independent"}, "legend": {"color": "independent", "fill": "independent", "stroke": "independent"}},
    "hconcat": [
     {
      "width": 274, "height": 304,
      "title": {"text": "b", "dx": -66, "dy": 14},
      "layer": [
       {"data": {"name": "bL"}, "mark": {"type": "line", "strokeWidth": 2.2, "strokeJoin": "round"},
        "encoding": {
         "x": {"field": "H", "type": "quantitative", "scale": {"domain": [0.3008, 0.3652], "nice": false, "zero": false}, "axis": {"values": [0.31, 0.333, 0.356], "format": ".3f", "title": "H (r.l.u.)"}},
         "y": {"field": "v", "type": "quantitative", "scale": {"domain": [-0.05, 0.854], "nice": false, "zero": false}, "axis": {"values": [0, 0.2, 0.4, 0.6], "format": "~r", "title": "I/I₀ (arb. units)"}},
         "color": {"field": "hv", "type": "nominal", "scale": {"domain": ["1,053", "993", "881", "816"], "range": ["#9bb9ea", "#5b9299", "#3b8c6c", "#17692c"]}, "legend": {"orient": "none", "legendX": 26, "legendY": 7, "title": "hν (eV)", "titlePadding": 7, "symbolType": "stroke", "symbolSize": 324, "symbolStrokeWidth": 3, "labelOffset": 9, "rowPadding": 4}}
        }},
       {"data": {"values": [{}]}, "mark": {"type": "text", "text": "Sample C", "align": "right", "baseline": "middle", "color": "#9db9ea"}, "encoding": {"x": {"datum": 0.36284, "type": "quantitative"}, "y": {"datum": 0.8034, "type": "quantitative"}}},
       {"data": {"values": [{}]}, "mark": {"type": "text", "text": "σ pol.", "align": "right", "baseline": "middle"}, "encoding": {"x": {"datum": 0.36284, "type": "quantitative"}, "y": {"datum": 0.741, "type": "quantitative"}}},
       {"data": {"values": [{}]}, "mark": {"type": "text", "text": "×0.25", "align": "right", "baseline": "middle", "color": "#9db9ea"}, "encoding": {"x": {"datum": 0.36284, "type": "quantitative"}, "y": {"datum": 0.467, "type": "quantitative"}}}
      ]
     },
     {
      "width": 274, "height": 304,
      "title": {"text": "c", "dx": -39, "dy": 11},
      "layer": [
       {"data": {"name": "cL"}, "mark": {"type": "line", "strokeWidth": 2.2, "strokeJoin": "round"},
        "encoding": {
         "x": {"field": "H", "type": "quantitative", "scale": {"domain": [-0.4083, -0.2577], "nice": false, "zero": false}, "axis": {"values": [-0.383, -0.333, -0.283], "format": ".3f", "title": "H (r.l.u.)"}},
         "y": {"field": "v", "type": "quantitative", "scale": {"domain": [-0.00098, 0.01201], "nice": false, "zero": false}, "axis": {"values": [0, 0.01], "format": "~r", "title": null}},
         "color": {"field": "hv", "type": "nominal", "scale": {"domain": ["851", "836", "816"], "range": ["#a3184a", "#c4555e", "#dc9d70"]}, "legend": {"orient": "none", "legendX": 26, "legendY": 7, "title": "hν (eV)", "titlePadding": 7, "symbolType": "stroke", "symbolSize": 324, "symbolStrokeWidth": 3, "labelOffset": 9, "rowPadding": 4}}
        }},
       {"data": {"values": [{}]}, "mark": {"type": "text", "text": "Sample D", "align": "right", "baseline": "middle", "color": "#e2a47c"}, "encoding": {"x": {"datum": -0.26317, "type": "quantitative"}, "y": {"datum": 0.011284, "type": "quantitative"}}},
       {"data": {"values": [{}]}, "mark": {"type": "text", "text": "σ pol.", "align": "right", "baseline": "middle"}, "encoding": {"x": {"datum": -0.26317, "type": "quantitative"}, "y": {"datum": 0.010386, "type": "quantitative"}}},
       {"data": {"values": [{}]}, "mark": {"type": "text", "text": "×0.10", "align": "right", "baseline": "middle", "color": "#a3184a"}, "encoding": {"x": {"datum": -0.26317, "type": "quantitative"}, "y": {"datum": 0.007352, "type": "quantitative"}}}
      ]
     }
    ]
   }
  ]
 },
 {
  "spacing": 0,
  "bounds": "flush",
  "resolve": {"scale": {"x": "independent", "y": "independent", "color": "independent", "fill": "independent", "stroke": "independent"}, "axis": {"x": "independent", "y": "independent"}, "legend": {"color": "independent", "fill": "independent", "stroke": "independent"}},
  "vconcat": [
   {
    "width": 618, "height": 228,
    "title": {"text": "d", "dx": -69, "dy": 31},
    "layer": [
     {"data": {"name": "band"}, "mark": {"type": "line", "strokeWidth": 43, "strokeCap": "round", "color": "#dcdcdc", "interpolate": "monotone"},
      "encoding": {
       "x": {"field": "T", "type": "quantitative", "scale": {"domain": [0, 400], "nice": false, "zero": false}, "axis": {"values": [100, 200, 300], "labels": false, "title": null}},
       "y": {"field": "A", "type": "quantitative", "scale": {"domain": [0, 1.4], "nice": false, "zero": false}, "axis": {"values": [0, 0.5, 1.0], "labelExpr": "datum.value == 0 ? '0' : format(datum.value, '.1f')", "title": "A/A (20 K)", "titlePadding": 4, "titleY": 96, "titleAlign": "center"}}
      }},
     {"data": {"name": "dA"}, "transform": [{"filter": "datum.hi > datum.lo"}], "mark": {"type": "rule", "strokeWidth": 1.5},
      "encoding": {"x": {"field": "T", "type": "quantitative"}, "y": {"field": "lo", "type": "quantitative"}, "y2": {"field": "hi"},
       "color": {"field": "sample", "type": "nominal", "scale": {"range": ["#1d3f72", "#95b5e8", "#c98e65"]}, "legend": null}}},
     {"data": {"name": "dA"}, "transform": [{"filter": "datum.hi > datum.lo"}], "mark": {"type": "tick", "orient": "horizontal", "size": 11, "thickness": 1.5, "opacity": 1},
      "encoding": {"x": {"field": "T", "type": "quantitative"}, "y": {"field": "lo", "type": "quantitative"}, "color": {"field": "sample", "type": "nominal", "legend": null}}},
     {"data": {"name": "dA"}, "transform": [{"filter": "datum.hi > datum.lo"}], "mark": {"type": "tick", "orient": "horizontal", "size": 11, "thickness": 1.5, "opacity": 1},
      "encoding": {"x": {"field": "T", "type": "quantitative"}, "y": {"field": "hi", "type": "quantitative"}, "color": {"field": "sample", "type": "nominal", "legend": null}}},
     {"data": {"name": "dA"}, "transform": [{"filter": "datum.edge == 'Ni'"}], "mark": {"type": "point", "shape": "square", "filled": false, "size": 130, "strokeWidth": 1.7, "opacity": 1},
      "encoding": {"x": {"field": "T", "type": "quantitative"}, "y": {"field": "val", "type": "quantitative"},
       "stroke": {"field": "sample", "type": "nominal", "scale": {"domain": ["B", "C", "D"], "range": ["#1d3f72", "#95b5e8", "#c98e65"]}, "legend": {"orient": "none", "direction": "horizontal", "legendX": 465, "legendY": 165, "title": "Ni L₃", "titleOrient": "right", "titlePadding": 9, "labelExpr": "''", "labelFontSize": 1, "labelOffset": 0, "columnPadding": 3.6, "symbolType": "square", "symbolSize": 130, "symbolStrokeWidth": 1.7}}}},
     {"data": {"name": "dA"}, "transform": [{"filter": "datum.edge == 'Nd'"}], "mark": {"type": "point", "shape": "diamond", "filled": true, "size": 200, "opacity": 1},
      "encoding": {"x": {"field": "T", "type": "quantitative"}, "y": {"field": "val", "type": "quantitative"},
       "fill": {"field": "sample", "type": "nominal", "scale": {"range": ["#1d3f72", "#95b5e8", "#c98e65"]}, "legend": {"orient": "none", "direction": "horizontal", "legendX": 463.5, "legendY": 189, "title": "Nd M₅", "titleOrient": "right", "titlePadding": 7, "labelExpr": "''", "labelFontSize": 1, "labelOffset": 0, "columnPadding": 9.9, "symbolType": "diamond", "symbolSize": 200}}}},
     {"data": {"values": [{}]}, "mark": {"type": "text", "text": "B", "align": "center", "baseline": "middle"}, "encoding": {"x": {"datum": 306.8, "type": "quantitative"}, "y": {"datum": 0.456, "type": "quantitative"}}},
     {"data": {"values": [{}]}, "mark": {"type": "text", "text": "C", "align": "center", "baseline": "middle"}, "encoding": {"x": {"datum": 323.6, "type": "quantitative"}, "y": {"datum": 0.456, "type": "quantitative"}}},
     {"data": {"values": [{}]}, "mark": {"type": "text", "text": "D", "align": "center", "baseline": "middle"}, "encoding": {"x": {"datum": 340.5, "type": "quantitative"}, "y": {"datum": 0.456, "type": "quantitative"}}}
    ]
   },
   {
    "width": 618, "height": 227,
    "layer": [
     {"data": {"name": "dX"}, "mark": {"type": "rule", "strokeWidth": 1.5},
      "encoding": {
       "x": {"field": "T", "type": "quantitative", "scale": {"domain": [0, 400], "nice": false, "zero": false}, "axis": {"values": [0, 100, 200, 300, 400], "title": "Temperature (K)"}},
       "y": {"field": "lo", "type": "quantitative", "scale": {"domain": [0, 45], "nice": false, "zero": false}, "axis": {"values": [0, 10, 20, 30, 40], "format": "~r", "title": "ξ (nm)", "titlePadding": 4}},
       "y2": {"field": "hi"},
       "color": {"field": "sample", "type": "nominal", "scale": {"domain": ["B", "C", "D"], "range": ["#1d3f72", "#95b5e8", "#c98e65"]}, "legend": null}}},
     {"data": {"name": "dX"}, "mark": {"type": "tick", "orient": "horizontal", "size": 11, "thickness": 1.5, "opacity": 1},
      "encoding": {"x": {"field": "T", "type": "quantitative"}, "y": {"field": "lo", "type": "quantitative"}, "color": {"field": "sample", "type": "nominal", "legend": null}}},
     {"data": {"name": "dX"}, "mark": {"type": "tick", "orient": "horizontal", "size": 11, "thickness": 1.5, "opacity": 1},
      "encoding": {"x": {"field": "T", "type": "quantitative"}, "y": {"field": "hi", "type": "quantitative"}, "color": {"field": "sample", "type": "nominal", "legend": null}}},
     {"data": {"name": "dX"}, "transform": [{"filter": "datum.edge == 'Ni'"}], "mark": {"type": "point", "shape": "square", "filled": false, "size": 130, "strokeWidth": 1.7, "opacity": 1},
      "encoding": {"x": {"field": "T", "type": "quantitative"}, "y": {"field": "val", "type": "quantitative"},
       "stroke": {"field": "sample", "type": "nominal", "scale": {"domain": ["B", "C", "D"], "range": ["#1d3f72", "#95b5e8", "#c98e65"]}, "legend": null}}},
     {"data": {"name": "dX"}, "transform": [{"filter": "datum.edge == 'Nd'"}], "mark": {"type": "point", "shape": "diamond", "filled": true, "size": 200, "opacity": 1},
      "encoding": {"x": {"field": "T", "type": "quantitative"}, "y": {"field": "val", "type": "quantitative"},
       "fill": {"field": "sample", "type": "nominal", "scale": {"domain": ["B", "C", "D"], "range": ["#1d3f72", "#95b5e8", "#c98e65"]}, "legend": null}}}
    ]
   }
  ]
 }
]
}
